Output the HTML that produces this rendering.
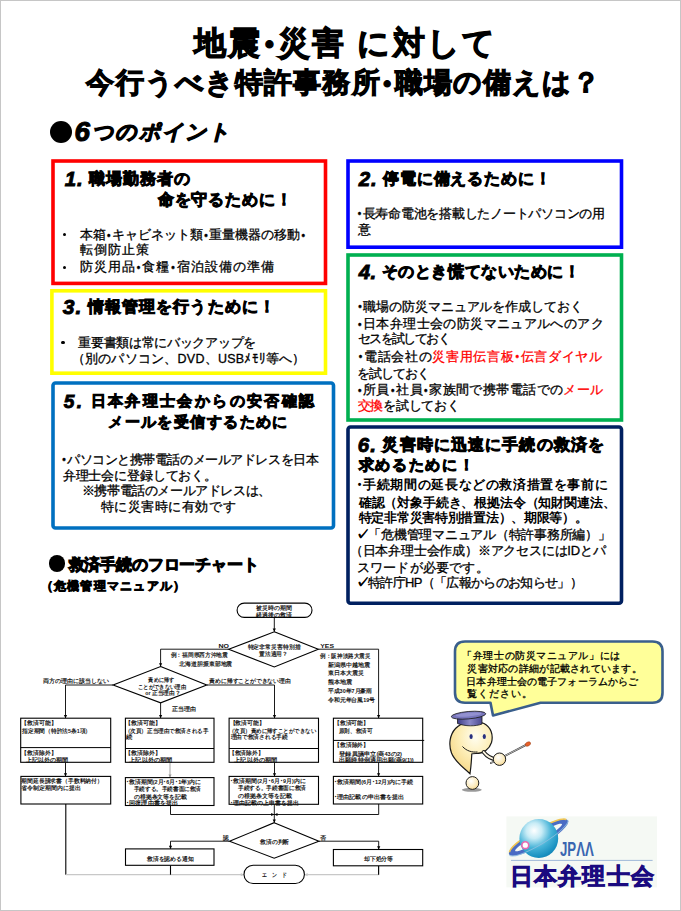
<!DOCTYPE html>
<html lang="ja"><head><meta charset="utf-8"><title>JPAA</title><style>
html,body{margin:0;padding:0;background:#fff}
body{width:681px;height:911px;position:relative;overflow:hidden;font-family:"Liberation Sans",sans-serif;color:#000}
.frame{position:absolute;left:0;top:0;width:679px;height:909px;border:1px solid #c6c6c6}
.t{position:absolute;white-space:nowrap;line-height:1}
.r{color:#ff0000}
.d{display:inline-block;font-size:.8em;width:.625em;vertical-align:.06em;text-align:center;font-family:"Liberation Sans",sans-serif;font-weight:bold}
.n{font-size:1.32em;vertical-align:-0.09em;line-height:0;font-style:italic}
.ck{-webkit-text-stroke:1px #000}
.bl{position:absolute;width:3.6px;height:3.6px;border-radius:50%;background:#000}
.box{position:absolute;box-sizing:border-box;border-style:solid}
svg{position:absolute;left:0;top:0;overflow:visible}
</style></head><body>
<div class="frame"></div>
<svg width="681" height="911" style="position:absolute;left:0;top:0"><rect x="53" y="161" width="272.5" height="122.4" rx="0" fill="none" stroke="#ff0000" stroke-width="3.6"/><rect x="51.9" y="290.8" width="273.6" height="82.4" rx="0" fill="none" stroke="#ffff00" stroke-width="3.6"/><rect x="53" y="383" width="280.5" height="145" rx="2.5" fill="none" stroke="#0070c0" stroke-width="3.6"/><rect x="348" y="161" width="273.5" height="86.2" rx="0" fill="none" stroke="#0000ff" stroke-width="3.6"/><rect x="348" y="255" width="273.5" height="165" rx="0" fill="none" stroke="#00b050" stroke-width="3.6"/><rect x="348" y="427" width="273.5" height="176.2" rx="2.5" fill="none" stroke="#002060" stroke-width="3.6"/></svg>
<svg width="681" height="911" viewBox="0 0 681 911" style="font-family:'Liberation Sans',sans-serif">
<path d="M274.3 617.4 L274.3 631.8" fill="none" stroke="#000" stroke-width="0.9"/>
<path d="M274.3 631.8 L272.7 628.6 L275.9 628.6 Z" fill="#000"/>
<path d="M228.7 649.2 L160.6 649.2 L160.6 666.5" fill="none" stroke="#000" stroke-width="0.9"/>
<path d="M160.6 666.5 L159 663.3 L162.2 663.3 Z" fill="#000"/>
<path d="M318.3 649.2 L378.6 649.2 L378.6 718.2" fill="none" stroke="#000" stroke-width="0.9"/>
<path d="M378.6 718.2 L377 715 L380.2 715 Z" fill="#000"/>
<path d="M113.1 685 L65.5 685 L65.5 718.2" fill="none" stroke="#000" stroke-width="0.9"/>
<path d="M65.5 718.2 L63.9 715 L67.1 715 Z" fill="#000"/>
<path d="M206.8 685 L274.5 685 L274.5 718.2" fill="none" stroke="#000" stroke-width="0.9"/>
<path d="M274.5 718.2 L272.9 715 L276.1 715 Z" fill="#000"/>
<path d="M160.6 702.8 L160.6 718.2" fill="none" stroke="#000" stroke-width="0.9"/>
<path d="M160.6 718.2 L159 715 L162.2 715 Z" fill="#000"/>
<path d="M65.5 762.3 L65.5 776.4" fill="none" stroke="#000" stroke-width="0.9"/>
<path d="M65.5 776.4 L63.9 773.2 L67.1 773.2 Z" fill="#000"/>
<path d="M170 762.3 L170 777.6" fill="none" stroke="#999" stroke-width="0.9"/>
<path d="M170 777.6 L168.4 774.4 L171.6 774.4 Z" fill="#999"/>
<path d="M274.5 762.3 L274.5 776.4" fill="none" stroke="#000" stroke-width="0.9"/>
<path d="M274.5 776.4 L272.9 773.2 L276.1 773.2 Z" fill="#000"/>
<path d="M378.6 762.3 L378.6 776.4" fill="none" stroke="#000" stroke-width="0.9"/>
<path d="M378.6 776.4 L377 773.2 L380.2 773.2 Z" fill="#000"/>
<path d="M65.8 804 L65.8 874.7" fill="none" stroke="#000" stroke-width="1.1"/>
<path d="M65.8 874.7 L244 874.7" fill="none" stroke="#c8c8c8" stroke-width="1.2"/>
<path d="M244 874.7 L240.8 876.3 L240.8 873.1 Z" fill="#c8c8c8"/>
<path d="M170.5 805.5 L170.5 814.5 L274.3 814.5" fill="none" stroke="#000" stroke-width="0.9"/>
<path d="M274.3 814.5 L271.1 816.1 L271.1 812.9 Z" fill="#000"/>
<path d="M378.7 804 L378.7 814.5 L274.3 814.5" fill="none" stroke="#000" stroke-width="0.9"/>
<path d="M274.3 814.5 L277.5 812.9 L277.5 816.1 Z" fill="#000"/>
<path d="M274.3 804.3 L274.3 822.7" fill="none" stroke="#000" stroke-width="0.9"/>
<path d="M274.3 822.7 L272.7 819.5 L275.9 819.5 Z" fill="#000"/>
<path d="M229.5 841.2 L170.5 841.2 L170.5 848.9" fill="none" stroke="#000" stroke-width="0.9"/>
<path d="M170.5 848.9 L168.9 845.7 L172.1 845.7 Z" fill="#000"/>
<path d="M318.9 841.2 L378.7 841.2 L378.7 849.5" fill="none" stroke="#000" stroke-width="0.9"/>
<path d="M378.7 849.5 L377.1 846.3 L380.3 846.3 Z" fill="#000"/>
<path d="M170.5 865.3 L170.5 874.7" fill="none" stroke="#000" stroke-width="1.1"/>
<path d="M378.6 865.8 L378.6 874.7 L304.4 874.7" fill="none" stroke="#c8c8c8" stroke-width="1.2"/>
<path d="M304.4 874.7 L307.6 873.1 L307.6 876.3 Z" fill="#c8c8c8"/>
<path d="M378.6 865.8 L378.6 874.7" stroke="#000" stroke-width="1.1"/>
<rect x="237.1" y="603.1" width="74.9" height="14.3" rx="7.1" fill="#fff" stroke="#000" stroke-width="1.1"/>
<path d="M274.3 631.8 L318.3 649.3 L274.3 667 L228.7 649.3 Z" fill="#fff" stroke="#000" stroke-width="1.1"/>
<path d="M160.6 666.5 L206.8 685 L160.6 702.8 L113.1 685 Z" fill="#fff" stroke="#000" stroke-width="1.1"/>
<rect x="20.7" y="718.2" width="90" height="44.1" rx="0" fill="#fff" stroke="#000" stroke-width="1.1"/>
<path d="M20.7 747.6 L110.7 747.6" stroke="#000" stroke-width="1"/>
<rect x="125.4" y="718.2" width="88.6" height="44.1" rx="0" fill="#fff" stroke="#000" stroke-width="1.1"/>
<path d="M125.4 748.5 L214 748.5" stroke="#000" stroke-width="1"/>
<rect x="229.1" y="718.2" width="89.4" height="44.1" rx="0" fill="#fff" stroke="#000" stroke-width="1.1"/>
<path d="M229.1 748.5 L318.5 748.5" stroke="#000" stroke-width="1"/>
<rect x="333.4" y="718.2" width="89.3" height="44.1" rx="0" fill="#fff" stroke="#000" stroke-width="1.1"/>
<path d="M333.4 740.4 L424.2 740.4" stroke="#000" stroke-width="1"/>
<rect x="20.9" y="776.4" width="89.8" height="27.6" rx="0" fill="#fff" stroke="#000" stroke-width="1.1"/>
<rect x="125.4" y="777.6" width="88.6" height="27.9" rx="0" fill="#fff" stroke="#000" stroke-width="1.1"/>
<rect x="229.1" y="776.4" width="89.4" height="27.9" rx="0" fill="#fff" stroke="#000" stroke-width="1.1"/>
<rect x="333.4" y="776.4" width="89.3" height="27.6" rx="0" fill="#fff" stroke="#000" stroke-width="1.1"/>
<path d="M274.2 822.7 L318.9 841.2 L274.2 858.2 L229.5 841.2 Z" fill="#fff" stroke="#000" stroke-width="1.1"/>
<rect x="125.5" y="848.9" width="88.5" height="16.4" rx="0" fill="#fff" stroke="#000" stroke-width="1.1"/>
<rect x="333.4" y="849.5" width="89.3" height="16.3" rx="0" fill="#fff" stroke="#000" stroke-width="1.1"/>
<rect x="244" y="865.3" width="60.4" height="18.2" rx="9.1" fill="#fff" stroke="#000" stroke-width="1.1"/>
<text x="256.4" y="609.62" font-size="5.5" font-weight="bold" fill="#111" textLength="35.8" lengthAdjust="spacingAndGlyphs">被災時の期間</text>
<text x="256.4" y="616.62" font-size="5.5" font-weight="bold" fill="#111" textLength="35.8" lengthAdjust="spacingAndGlyphs">経過後の救済</text>
<text x="247.6" y="648.92" font-size="5.5" font-weight="bold" fill="#111" textLength="52.9" lengthAdjust="spacingAndGlyphs">特定非常災害特別措</text>
<text x="259.4" y="655.82" font-size="5.5" font-weight="bold" fill="#111" textLength="28.4" lengthAdjust="spacingAndGlyphs">置法適用？</text>
<text x="218.4" y="647.9" font-size="5" font-weight="bold" fill="#111" textLength="10.5" lengthAdjust="spacingAndGlyphs">NO</text>
<text x="320.3" y="648.4" font-size="5" font-weight="bold" fill="#111" textLength="13.7" lengthAdjust="spacingAndGlyphs">YES</text>
<text x="170.8" y="657.12" font-size="5.5" font-weight="bold" fill="#111" textLength="57" lengthAdjust="spacingAndGlyphs">例：福岡県西方沖地震</text>
<text x="179.3" y="665.62" font-size="5.5" font-weight="bold" fill="#111" textLength="53" lengthAdjust="spacingAndGlyphs">北海道胆振東部地震</text>
<text x="320.3" y="657.62" font-size="5.5" font-weight="bold" fill="#111" textLength="50" lengthAdjust="spacingAndGlyphs">例：阪神淡路大震災</text>
<text x="327.8" y="666.62" font-size="5.5" font-weight="bold" fill="#111" textLength="42.5" lengthAdjust="spacingAndGlyphs">新潟県中越地震</text>
<text x="327.8" y="675.12" font-size="5.5" font-weight="bold" fill="#111" textLength="36.2" lengthAdjust="spacingAndGlyphs">東日本大震災</text>
<text x="327.8" y="684.12" font-size="5.5" font-weight="bold" fill="#111" textLength="24.5" lengthAdjust="spacingAndGlyphs">熊本地震</text>
<text x="327.8" y="692.62" font-size="5.5" font-weight="bold" fill="#111" textLength="44.5" lengthAdjust="spacingAndGlyphs">平成30年7月豪雨</text>
<text x="327.8" y="701.62" font-size="5.5" font-weight="bold" fill="#111" textLength="47.5" lengthAdjust="spacingAndGlyphs">令和元年台風19号</text>
<text x="148.4" y="681.62" font-size="5.5" font-weight="bold" fill="#111" textLength="25.6" lengthAdjust="spacingAndGlyphs">責めに帰す</text>
<text x="137.9" y="688.82" font-size="5.5" font-weight="bold" fill="#111" textLength="48.2" lengthAdjust="spacingAndGlyphs">ことができない理由</text>
<text x="145.2" y="694.52" font-size="5.5" font-weight="bold" fill="#111" textLength="35.2" lengthAdjust="spacingAndGlyphs">or 正当理由？</text>
<text x="42.8" y="683.32" font-size="5.5" font-weight="bold" fill="#111" textLength="66.1" lengthAdjust="spacingAndGlyphs">両方の理由に該当しない</text>
<text x="209.3" y="683.32" font-size="5.5" font-weight="bold" fill="#111" textLength="81.4" lengthAdjust="spacingAndGlyphs">責めに帰すことができない理由</text>
<text x="171.8" y="710.62" font-size="5.5" font-weight="bold" fill="#111" textLength="24" lengthAdjust="spacingAndGlyphs">正当理由</text>
<text x="21.1" y="725.22" font-size="5.5" font-weight="bold" fill="#111" textLength="35.5" lengthAdjust="spacingAndGlyphs">【救済可能】</text>
<text x="22.1" y="732.52" font-size="5.5" font-weight="bold" fill="#111" textLength="69.1" lengthAdjust="spacingAndGlyphs">指定期間（特許法5条1項）</text>
<text x="21" y="754.62" font-size="5.5" font-weight="bold" fill="#111" textLength="35.4" lengthAdjust="spacingAndGlyphs">【救済除外】</text>
<text x="25.8" y="762.22" font-size="5.5" font-weight="bold" fill="#111" textLength="42.4" lengthAdjust="spacingAndGlyphs">上記以外の期間</text>
<text x="124.6" y="725.12" font-size="5.5" font-weight="bold" fill="#111" textLength="35.9" lengthAdjust="spacingAndGlyphs">【救済可能】</text>
<text x="124.6" y="732.62" font-size="5.5" font-weight="bold" fill="#111" textLength="83.8" lengthAdjust="spacingAndGlyphs">（次頁）正当理由で救済される手</text>
<text x="126.4" y="739.42" font-size="5.5" font-weight="bold" fill="#111" textLength="6.4" lengthAdjust="spacingAndGlyphs">続</text>
<text x="124.6" y="754.82" font-size="5.5" font-weight="bold" fill="#111" textLength="35.9" lengthAdjust="spacingAndGlyphs">【救済除外】</text>
<text x="129.3" y="762.22" font-size="5.5" font-weight="bold" fill="#111" textLength="43.1" lengthAdjust="spacingAndGlyphs">上記以外の期間</text>
<text x="229.6" y="725.12" font-size="5.5" font-weight="bold" fill="#111" textLength="35.3" lengthAdjust="spacingAndGlyphs">【救済可能】</text>
<text x="228.9" y="732.62" font-size="5.5" font-weight="bold" fill="#111" textLength="87.1" lengthAdjust="spacingAndGlyphs">（次頁）責めに帰すことができない</text>
<text x="230.7" y="739.42" font-size="5.5" font-weight="bold" fill="#111" textLength="57" lengthAdjust="spacingAndGlyphs">理由で救済される手続</text>
<text x="228.9" y="754.62" font-size="5.5" font-weight="bold" fill="#111" textLength="34.8" lengthAdjust="spacingAndGlyphs">【救済除外】</text>
<text x="234.3" y="762.22" font-size="5.5" font-weight="bold" fill="#111" textLength="43.1" lengthAdjust="spacingAndGlyphs">上記以外の期間</text>
<text x="334" y="725.22" font-size="5.5" font-weight="bold" fill="#111" textLength="34.9" lengthAdjust="spacingAndGlyphs">【救済可能】</text>
<text x="338.8" y="732.62" font-size="5.5" font-weight="bold" fill="#111" textLength="33.5" lengthAdjust="spacingAndGlyphs">原則、救済可</text>
<text x="334" y="747.22" font-size="5.5" font-weight="bold" fill="#111" textLength="35" lengthAdjust="spacingAndGlyphs">【救済除外】</text>
<text x="339.3" y="755.62" font-size="5.5" font-weight="bold" fill="#111" textLength="62.7" lengthAdjust="spacingAndGlyphs">登録異議申立(商43の2)</text>
<text x="339.3" y="762.22" font-size="5.5" font-weight="bold" fill="#111" textLength="74.4" lengthAdjust="spacingAndGlyphs">出願時特例適用出願(商9(1))</text>
<text x="21.4" y="783.22" font-size="5.5" font-weight="bold" fill="#111" textLength="81.5" lengthAdjust="spacingAndGlyphs">期間延長請求書（手数料納付）</text>
<text x="21.4" y="790.12" font-size="5.5" font-weight="bold" fill="#111" textLength="59.7" lengthAdjust="spacingAndGlyphs">省令制定期間内に提出</text>
<text x="126.1" y="784.22" font-size="5.5" font-weight="bold" fill="#111" textLength="74.7" lengthAdjust="spacingAndGlyphs">･救済期間(2月･6月･1年)内に</text>
<text x="133.8" y="790.62" font-size="5.5" font-weight="bold" fill="#111" textLength="67.3" lengthAdjust="spacingAndGlyphs">手続する。手続書面に救済</text>
<text x="133.8" y="798.62" font-size="5.5" font-weight="bold" fill="#111" textLength="53.3" lengthAdjust="spacingAndGlyphs">の根拠条文等を記載</text>
<text x="126.1" y="805.22" font-size="5.5" font-weight="bold" fill="#111" textLength="52.2" lengthAdjust="spacingAndGlyphs">･回復理由書を提出</text>
<text x="230.4" y="783.22" font-size="5.5" font-weight="bold" fill="#111" textLength="75.4" lengthAdjust="spacingAndGlyphs">･救済期間(2月･6月･9月)内に</text>
<text x="238" y="790.12" font-size="5.5" font-weight="bold" fill="#111" textLength="68.1" lengthAdjust="spacingAndGlyphs">手続する。手続書面に救済</text>
<text x="238" y="798.32" font-size="5.5" font-weight="bold" fill="#111" textLength="54.1" lengthAdjust="spacingAndGlyphs">の根拠条文等を記載</text>
<text x="230.4" y="805.22" font-size="5.5" font-weight="bold" fill="#111" textLength="68.3" lengthAdjust="spacingAndGlyphs">･理由記載の上申書を提出</text>
<text x="334.1" y="783.92" font-size="5.5" font-weight="bold" fill="#111" textLength="79.1" lengthAdjust="spacingAndGlyphs">･救済期間(6月･12月)内に手続</text>
<text x="334.1" y="798.62" font-size="5.5" font-weight="bold" fill="#111" textLength="70.2" lengthAdjust="spacingAndGlyphs">･理由記載の申出書を提出</text>
<text x="260.1" y="844.32" font-size="5.5" font-weight="bold" fill="#111" textLength="29.2" lengthAdjust="spacingAndGlyphs">救済の判断</text>
<text x="223.1" y="840.02" font-size="5.5" font-weight="bold" fill="#111" textLength="5.7" lengthAdjust="spacingAndGlyphs">認</text>
<text x="320.2" y="840.02" font-size="5.5" font-weight="bold" fill="#111" textLength="6.1" lengthAdjust="spacingAndGlyphs">否</text>
<text x="146.9" y="861.22" font-size="5.5" font-weight="bold" fill="#111" textLength="46.8" lengthAdjust="spacingAndGlyphs">救済を認める通知</text>
<text x="363.9" y="861.22" font-size="5.5" font-weight="bold" fill="#111" textLength="29.2" lengthAdjust="spacingAndGlyphs">却下処分等</text>
<text x="262.3" y="877.12" font-size="5.5" font-weight="bold" fill="#111" textLength="24.5" lengthAdjust="spacingAndGlyphs">エ　ン　ド</text>
<path d="M465 641.5 H652.5 Q662.5 641.5 662.5 651.5 V692.8 Q662.5 702.8 652.5 702.8 H540.5 L493 715.5 L490.5 702.8 H465 Q455 702.8 455 692.8 V651.5 Q455 641.5 465 641.5 Z" fill="#ffff99" stroke="#3a5f8c" stroke-width="2.6" stroke-linejoin="round"/>
<defs>
<radialGradient id="face" cx="0.6" cy="0.3" r="0.8"><stop offset="0" stop-color="#fffdf0"/><stop offset="0.45" stop-color="#fdeeb8"/><stop offset="1" stop-color="#f4d37c"/></radialGradient>
<radialGradient id="ball" cx="0.4" cy="0.35" r="0.7"><stop offset="0" stop-color="#ffffff"/><stop offset="0.7" stop-color="#fbe9b8"/><stop offset="1" stop-color="#f0d08a"/></radialGradient>
<linearGradient id="hat" x1="0" y1="0" x2="1" y2="0"><stop offset="0" stop-color="#3e3c86"/><stop offset="0.5" stop-color="#8a88c8"/><stop offset="1" stop-color="#4a4890"/></linearGradient>
<radialGradient id="globe" cx="0.38" cy="0.3" r="0.8"><stop offset="0" stop-color="#ffffff"/><stop offset="0.25" stop-color="#c8ecf6"/><stop offset="0.55" stop-color="#48b4d8"/><stop offset="0.85" stop-color="#1890c0"/><stop offset="1" stop-color="#1478a8"/></radialGradient>
<linearGradient id="ring" x1="0" y1="1" x2="1" y2="0"><stop offset="0" stop-color="#2a7fc4"/><stop offset="0.5" stop-color="#e8c84a"/><stop offset="1" stop-color="#f2b81e"/></linearGradient>
</defs>
<ellipse cx="471.8" cy="789.8" rx="10" ry="2" fill="#888" opacity="0.85"/>
<circle cx="472.4" cy="783" r="6.4" fill="url(#ball)" stroke="#222" stroke-width="1"/>
<path d="M470 773.7 C463 767 455 762 451.5 753 C448.5 745 449.5 735 455.5 728.5 C462 721.5 475 719.5 484 723.5 C491 727 493.5 735 491.5 742.5 C489.5 749 483.5 753.5 476 753.5 C473.5 753.5 472 753.5 471.8 753.8 C471.5 760 471 767 470 773.7 Z" fill="url(#face)" stroke="#1a1a1a" stroke-width="1.2"/>
<path d="M483.6 752 C487 756.5 491.5 759 497 759.5" fill="none" stroke="#1a1a1a" stroke-width="3.8" stroke-linecap="round"/>
<path d="M483.6 752 C487 756.5 491.5 759 497 759.5" fill="none" stroke="#fff8e4" stroke-width="2" stroke-linecap="round"/>
<path d="M491 763 L526.6 744.6" stroke="#333" stroke-width="1.8" stroke-linecap="round"/>
<path d="M491 763 L526.6 744.6" stroke="#f4f4f4" stroke-width="0.7"/>
<ellipse cx="527.9" cy="744" rx="2.9" ry="1.9" transform="rotate(-28 527.9 744)" fill="#e8602a" stroke="#9a3a10" stroke-width="0.5"/>
<circle cx="499.5" cy="759.2" r="6.2" fill="url(#ball)" stroke="#1a1a1a" stroke-width="1"/>
<path d="M457.5 717 L457.5 723.5 C465 726.5 476 726.5 482 724 L482 716.5 Z" fill="url(#hat)" stroke="#1a1a1a" stroke-width="0.8"/>
<ellipse cx="468.5" cy="715.2" rx="17.3" ry="3.7" transform="rotate(-5 468.5 715.2)" fill="#7876bc" stroke="#1a1a1a" stroke-width="0.8"/>
<ellipse cx="468.5" cy="714.6" rx="13" ry="1.8" transform="rotate(-5 468.5 714.6)" fill="#9a98d4" opacity="0.8"/>
<ellipse cx="471.1" cy="736.5" rx="1.6" ry="2.6" fill="#283080"/>
<ellipse cx="484.3" cy="736.5" rx="1.6" ry="2.6" fill="#283080"/>
<path d="M462.5 746.5 C466.5 751 472 752.5 477.5 752" fill="none" stroke="#1a1a1a" stroke-width="1"/>
<rect x="506.4" y="816.4" width="150.6" height="71" fill="#f5f9f4"/>
<g transform="rotate(-30 538.6 837.5)"><path d="M504.6 837.5 A34 8 0 1 0 572.6 837.5 A34 8 0 1 0 504.6 837.5 Z M511.6 837.5 A27 3.6 0 1 0 565.6 837.5 A27 3.6 0 1 0 511.6 837.5 Z" fill="#4a6cc4" fill-rule="evenodd"/><path d="M506 835.8 A33 7 0 0 1 571.5 835.8" fill="none" stroke="#f2c650" stroke-width="1.6"/></g>
<circle cx="538.8" cy="838.5" r="19.4" fill="url(#globe)"/>
<g transform="rotate(-31 538.6 837.5)"><path d="M504.6 837.5 A34 7.2 0 0 0 572.6 837.5" fill="none" stroke="#8fc0e0" stroke-width="0.9" opacity="0.9"/></g>
<circle cx="525.3" cy="845.2" r="3.4" fill="#fff" stroke="#e868b0" stroke-width="1.6"/>
<text x="560" y="856" font-size="19.5" font-weight="bold" fill="#3a66b0" textLength="33.8" lengthAdjust="spacingAndGlyphs">JPΛΛ</text>
<path d="M511 860.4 H652.6" stroke="#9fb8d8" stroke-width="1"/>
<text x="509.5" y="884" font-size="22.5" font-weight="900" fill="#1a0a80" stroke="#1a0a80" stroke-width="0.8" letter-spacing="1.3">日本弁理士会</text>
</svg>
<div class="bl" style="left:49.55px;top:120.65px;width:22.5px;height:22.5px"></div>
<div class="bl" style="left:48.65px;top:555.35px;width:16.5px;height:16.5px"></div>
<div class="bl" style="left:62.6px;top:232.7px"></div>
<div class="bl" style="left:62.6px;top:265.5px"></div>
<div class="bl" style="left:61.2px;top:340.7px"></div>
<div class="t" id="t0" style="left:194.37px;top:28.37px;font-size:31.5px;font-weight:900;letter-spacing:2.11px;-webkit-text-stroke:1.2px #000">地震<span class="d">•</span>災害 に対して</div>
<div class="t" id="t1" style="left:86.44px;top:68.94px;font-size:28px;font-weight:900;letter-spacing:1.12px;-webkit-text-stroke:1.1px #000">今行うべき特許事務所<span class="d">•</span>職場の備えは？</div>
<div class="t" id="t2" style="left:74.58px;top:120.58px;font-size:21px;font-weight:900;letter-spacing:2.17px;-webkit-text-stroke:1.1px #000;font-style:italic"><span class="n">6</span>つのポイント</div>
<div class="t" id="t3" style="left:64.69px;top:171.19px;font-size:15.5px;font-weight:900;letter-spacing:0.97px;-webkit-text-stroke:0.9px #000"><span class="n">1.</span> 職場勤務者の</div>
<div class="t" id="t4" style="left:157.69px;top:192.19px;font-size:15.5px;font-weight:900;letter-spacing:0.86px;-webkit-text-stroke:0.9px #000">命を守るために！</div>
<div class="t" id="t5" style="left:79.75px;top:229.25px;font-size:12.5px;-webkit-text-stroke:0.3px currentColor">本箱<span class="d">•</span>キャビネット類<span class="d">•</span>重量機器の移動<span class="d">•</span></div>
<div class="t" id="t6" style="left:79.75px;top:244.25px;font-size:12.5px;letter-spacing:1px;-webkit-text-stroke:0.3px currentColor">転倒防止策</div>
<div class="t" id="t7" style="left:79.75px;top:261.25px;font-size:12.5px;letter-spacing:1.07px;-webkit-text-stroke:0.3px currentColor">防災用品<span class="d">•</span>食糧<span class="d">•</span>宿泊設備の準備</div>
<div class="t" id="t8" style="left:62.68px;top:299.18px;font-size:16px;font-weight:900;letter-spacing:1.08px;-webkit-text-stroke:0.9px #000"><span class="n">3.</span> 情報管理を行うために！</div>
<div class="t" id="t9" style="left:78.25px;top:336.75px;font-size:12.5px;letter-spacing:-0.31px;-webkit-text-stroke:0.3px currentColor">重要書類は常にバックアップを</div>
<div class="t" id="t10" style="left:71.75px;top:353.25px;font-size:12.5px;letter-spacing:0.23px;-webkit-text-stroke:0.3px currentColor">（別のパソコン、DVD、USBﾒﾓﾘ等へ）</div>
<div class="t" id="t11" style="left:63.71px;top:393.71px;font-size:14.5px;font-weight:900;letter-spacing:2.35px;-webkit-text-stroke:0.9px #000"><span class="n">5.</span> 日本弁理士会からの安否確認</div>
<div class="t" id="t12" style="left:108.21px;top:414.71px;font-size:14.5px;font-weight:900;letter-spacing:1.42px;-webkit-text-stroke:0.9px #000">メールを受信するために</div>
<div class="t" id="t13" style="left:60.75px;top:453.75px;font-size:12.5px;letter-spacing:-0.44px;-webkit-text-stroke:0.3px currentColor"><span class="d">•</span>パソコンと携帯電話のメールアドレスを日本</div>
<div class="t" id="t14" style="left:62.75px;top:470.25px;font-size:12.5px;letter-spacing:-0.15px;-webkit-text-stroke:0.3px currentColor">弁理士会に登録しておく。</div>
<div class="t" id="t15" style="left:81.75px;top:485.25px;font-size:12.5px;letter-spacing:-0.4px;-webkit-text-stroke:0.3px currentColor">※携帯電話のメールアドレスは、</div>
<div class="t" id="t16" style="left:100.75px;top:500.75px;font-size:12.5px;letter-spacing:0.53px;-webkit-text-stroke:0.3px currentColor">特に災害時に有効です</div>
<div class="t" id="t17" style="left:358.69px;top:170.69px;font-size:15.5px;font-weight:900;letter-spacing:0.92px;-webkit-text-stroke:0.9px #000"><span class="n">2.</span> 停電に備えるために！</div>
<div class="t" id="t18" style="left:356.25px;top:207.75px;font-size:12.5px;letter-spacing:-0.25px;-webkit-text-stroke:0.3px currentColor"><span class="d">•</span>長寿命電池を搭載したノートパソコンの用</div>
<div class="t" id="t19" style="left:357.75px;top:224.25px;font-size:12.5px;letter-spacing:-0.25px;-webkit-text-stroke:0.3px currentColor">意</div>
<div class="t" id="t20" style="left:358.69px;top:263.69px;font-size:15.5px;font-weight:900;letter-spacing:0.57px;-webkit-text-stroke:0.9px #000"><span class="n">4.</span> そのとき慌てないために！</div>
<div class="t" id="t21" style="left:356.75px;top:300.75px;font-size:12.5px;letter-spacing:-0.06px;-webkit-text-stroke:0.3px currentColor"><span class="d">•</span>職場の防災マニュアルを作成しておく</div>
<div class="t" id="t22" style="left:356.75px;top:318.25px;font-size:12.5px;letter-spacing:0.39px;-webkit-text-stroke:0.3px currentColor"><span class="d">•</span>日本弁理士会の防災マニュアルへのアク</div>
<div class="t" id="t23" style="left:357.75px;top:333.25px;font-size:12.5px;letter-spacing:-1.57px;-webkit-text-stroke:0.3px currentColor">セスを試しておく</div>
<div class="t" id="t24" style="left:357.75px;top:350.75px;font-size:12.5px;letter-spacing:0.67px;-webkit-text-stroke:0.3px currentColor"><span class="d">•</span>電話会社の<span class="r">災害用伝言板<span class="d">•</span>伝言ダイヤル</span></div>
<div class="t" id="t25" style="left:356.75px;top:367.75px;font-size:12.5px;letter-spacing:-1px;-webkit-text-stroke:0.3px currentColor">を試しておく</div>
<div class="t" id="t26" style="left:356.75px;top:384.25px;font-size:12.5px;letter-spacing:0.42px;-webkit-text-stroke:0.3px currentColor"><span class="d">•</span>所員<span class="d">•</span>社員<span class="d">•</span>家族間で携帯電話での<span class="r">メール</span></div>
<div class="t" id="t27" style="left:357.75px;top:400.25px;font-size:12.5px;letter-spacing:-0.29px;-webkit-text-stroke:0.3px currentColor"><span class="r">交換</span>を試しておく</div>
<div class="t" id="t28" style="left:357.69px;top:437.19px;font-size:15.5px;font-weight:900;letter-spacing:1.13px;-webkit-text-stroke:0.9px #000"><span class="n">6.</span> 災害時に迅速に手続の救済を</div>
<div class="t" id="t29" style="left:358.7px;top:456.7px;font-size:15px;font-weight:900;letter-spacing:1.67px;-webkit-text-stroke:0.9px #000">求めるために！</div>
<div class="t" id="t30" style="left:356.74px;top:477.74px;font-size:13px;font-weight:700;letter-spacing:0.61px"><span class="d">•</span>手続期間の延長などの救済措置を事前に</div>
<div class="t" id="t31" style="left:358.74px;top:495.74px;font-size:13px;font-weight:700;letter-spacing:-0.16px">確認（対象手続き、根拠法令（知財関連法、</div>
<div class="t" id="t32" style="left:358.74px;top:511.24px;font-size:13px;font-weight:700;letter-spacing:-0.29px">特定非常災害特別措置法）、期限等）。</div>
<div class="t" id="t33" style="left:355.74px;top:528.24px;font-size:13px;letter-spacing:-0.26px;-webkit-text-stroke:0.3px currentColor"><span class="ck">✓</span>「危機管理マニュアル（特許事務所編）」</div>
<div class="t" id="t34" style="left:349.74px;top:543.74px;font-size:13px;letter-spacing:-0.2px;-webkit-text-stroke:0.3px currentColor">（日本弁理士会作成）※アクセスにはIDとパ</div>
<div class="t" id="t35" style="left:356.74px;top:560.74px;font-size:13px;letter-spacing:0.22px;-webkit-text-stroke:0.3px currentColor">スワードが必要です。</div>
<div class="t" id="t36" style="left:355.74px;top:576.24px;font-size:13px;letter-spacing:-0.67px;-webkit-text-stroke:0.3px currentColor"><span class="ck">✓</span>特許庁HP（「広報からのお知らせ」）</div>
<div class="t" id="t37" style="left:68.68px;top:556.68px;font-size:16px;font-weight:900;letter-spacing:-0.18px;-webkit-text-stroke:1px #000">救済手続のフローチャート</div>
<div class="t" id="t38" style="left:40.76px;top:579.76px;font-size:12px;font-weight:900;letter-spacing:1.24px;-webkit-text-stroke:0.8px #000">（危機管理マニュアル）</div>
<div class="t" id="t39" style="left:462.3px;top:650.8px;font-size:10px;letter-spacing:0.56px;-webkit-text-stroke:0.3px currentColor">「弁理士の防災マニュアル」には</div>
<div class="t" id="t40" style="left:467.3px;top:663.8px;font-size:10px;letter-spacing:0.28px;-webkit-text-stroke:0.3px currentColor">災害対応の詳細が記載されています。</div>
<div class="t" id="t41" style="left:466.3px;top:676.8px;font-size:10px;letter-spacing:0.12px;-webkit-text-stroke:0.3px currentColor">日本弁理士会の電子フォーラムからご</div>
<div class="t" id="t42" style="left:467.3px;top:688.8px;font-size:10px;letter-spacing:1px;-webkit-text-stroke:0.3px currentColor">覧ください。</div>
</body></html>
